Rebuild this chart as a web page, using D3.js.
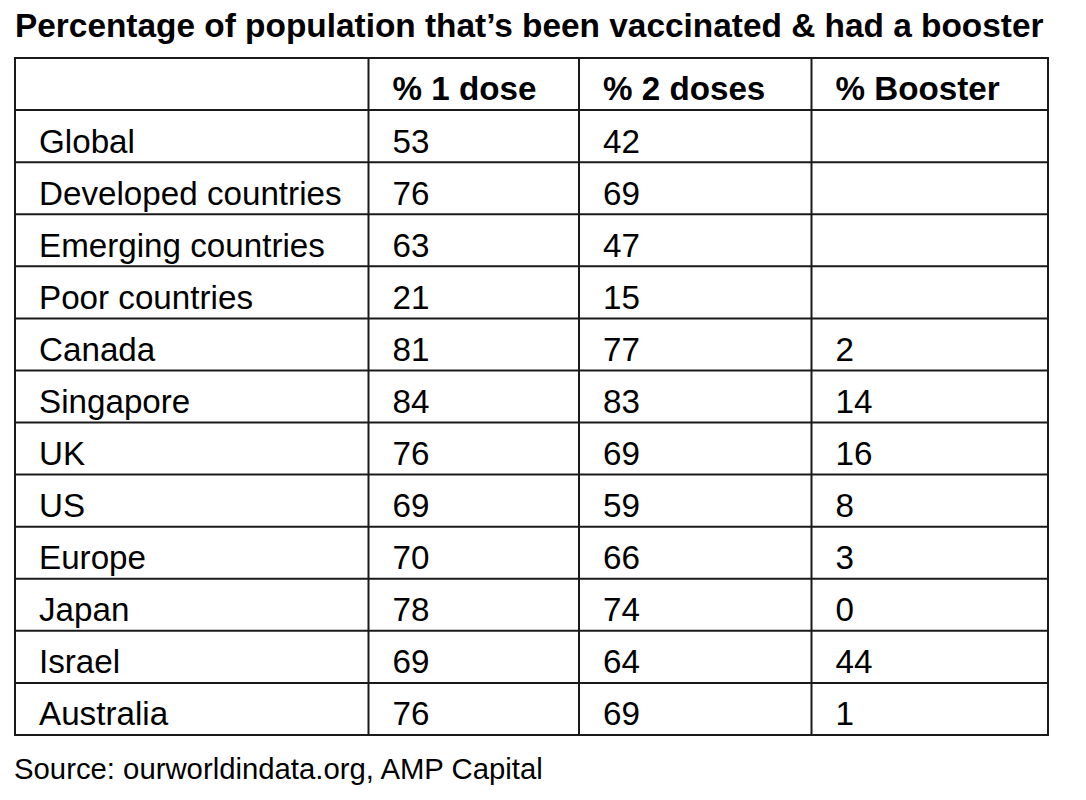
<!DOCTYPE html>
<html>
<head>
<meta charset="utf-8">
<script src="https://cdn.jsdelivr.net/npm/d3@7"></script>
<style>
  html, body { margin: 0; padding: 0; background: #fff; }
  svg { display: block; font-family: "Liberation Sans", Arial, sans-serif; }
</style>
</head>
<body>
<svg id="chart" width="1086" height="800"></svg>
<script>
// Table data
const columns = ['', '% 1 dose', '% 2 doses', '% Booster'];
const regions = ['Global', 'Developed countries', 'Emerging countries', 'Poor countries',
    'Canada', 'Singapore', 'UK', 'US', 'Europe', 'Japan', 'Israel', 'Australia'];
const oneDose = [53, 76, 63, 21, 81, 84, 76, 69, 70, 78, 69, 76];
const twoDoses = [42, 69, 47, 15, 77, 83, 69, 59, 66, 74, 64, 69];
const booster = [null, null, null, null, 2, 14, 16, 8, 3, 0, 44, 1];

const title = 'Percentage of population that\u2019s been vaccinated & had a booster';
const source = 'Source: ourworldindata.org, AMP Capital';

// Layout
const colEdges = [15, 368.5, 579, 811.5, 1048];
const tableTop = 58, tableBottom = 735;
const padX = 24;
const lineColor = '#1a1a1a';

const svg = d3.select('#chart');

svg.append('text')
    .attr('x', 15)
    .attr('y', 37)
    .attr('font-size', 33.4)
    .attr('font-weight', 'bold')
    .attr('fill', '#000')
    .text(title);

const rowKeys = ['__header'].concat(regions);
const y = d3.scaleBand().domain(rowKeys).range([tableTop, tableBottom]).padding(0);

const tableRows = regions.map((r, i) => [r, oneDose[i], twoDoses[i], booster[i]]);
const cells = [];
columns.forEach((c, j) => cells.push({ row: '__header', col: j, text: c, bold: true }));
tableRows.forEach((r, i) => r.forEach((v, j) => {
    cells.push({ row: regions[i], col: j, text: v == null ? '' : String(v), bold: false });
}));

svg.append('g')
    .selectAll('text')
    .data(cells)
    .join('text')
    .attr('x', (d) => colEdges[d.col] + padX)
    .attr('y', (d) => y(d.row) + y.bandwidth() * 0.815)
    .attr('font-size', 33.2)
    .attr('font-weight', (d) => (d.bold ? 'bold' : 'normal'))
    .attr('fill', '#000')
    .text((d) => d.text);

const grid = svg.append('g')
    .attr('stroke', lineColor)
    .attr('stroke-width', 2)
    .attr('fill', 'none');

// horizontal lines
grid.selectAll('line.h')
    .data(rowKeys.slice(1))
    .join('line')
    .attr('class', 'h')
    .attr('x1', colEdges[0])
    .attr('x2', colEdges[colEdges.length - 1])
    .attr('y1', (d) => y(d))
    .attr('y2', (d) => y(d));

// vertical lines
grid.selectAll('line.v')
    .data(colEdges.slice(1, -1))
    .join('line')
    .attr('class', 'v')
    .attr('x1', (d) => d)
    .attr('x2', (d) => d)
    .attr('y1', tableTop)
    .attr('y2', tableBottom);

grid.append('rect')
    .attr('x', colEdges[0])
    .attr('y', tableTop)
    .attr('width', colEdges[colEdges.length - 1] - colEdges[0])
    .attr('height', tableBottom - tableTop);

svg.append('text')
    .attr('x', 14)
    .attr('y', 779)
    .attr('font-size', 29.3)
    .attr('fill', '#000')
    .text(source);
</script>
</body>
</html>
